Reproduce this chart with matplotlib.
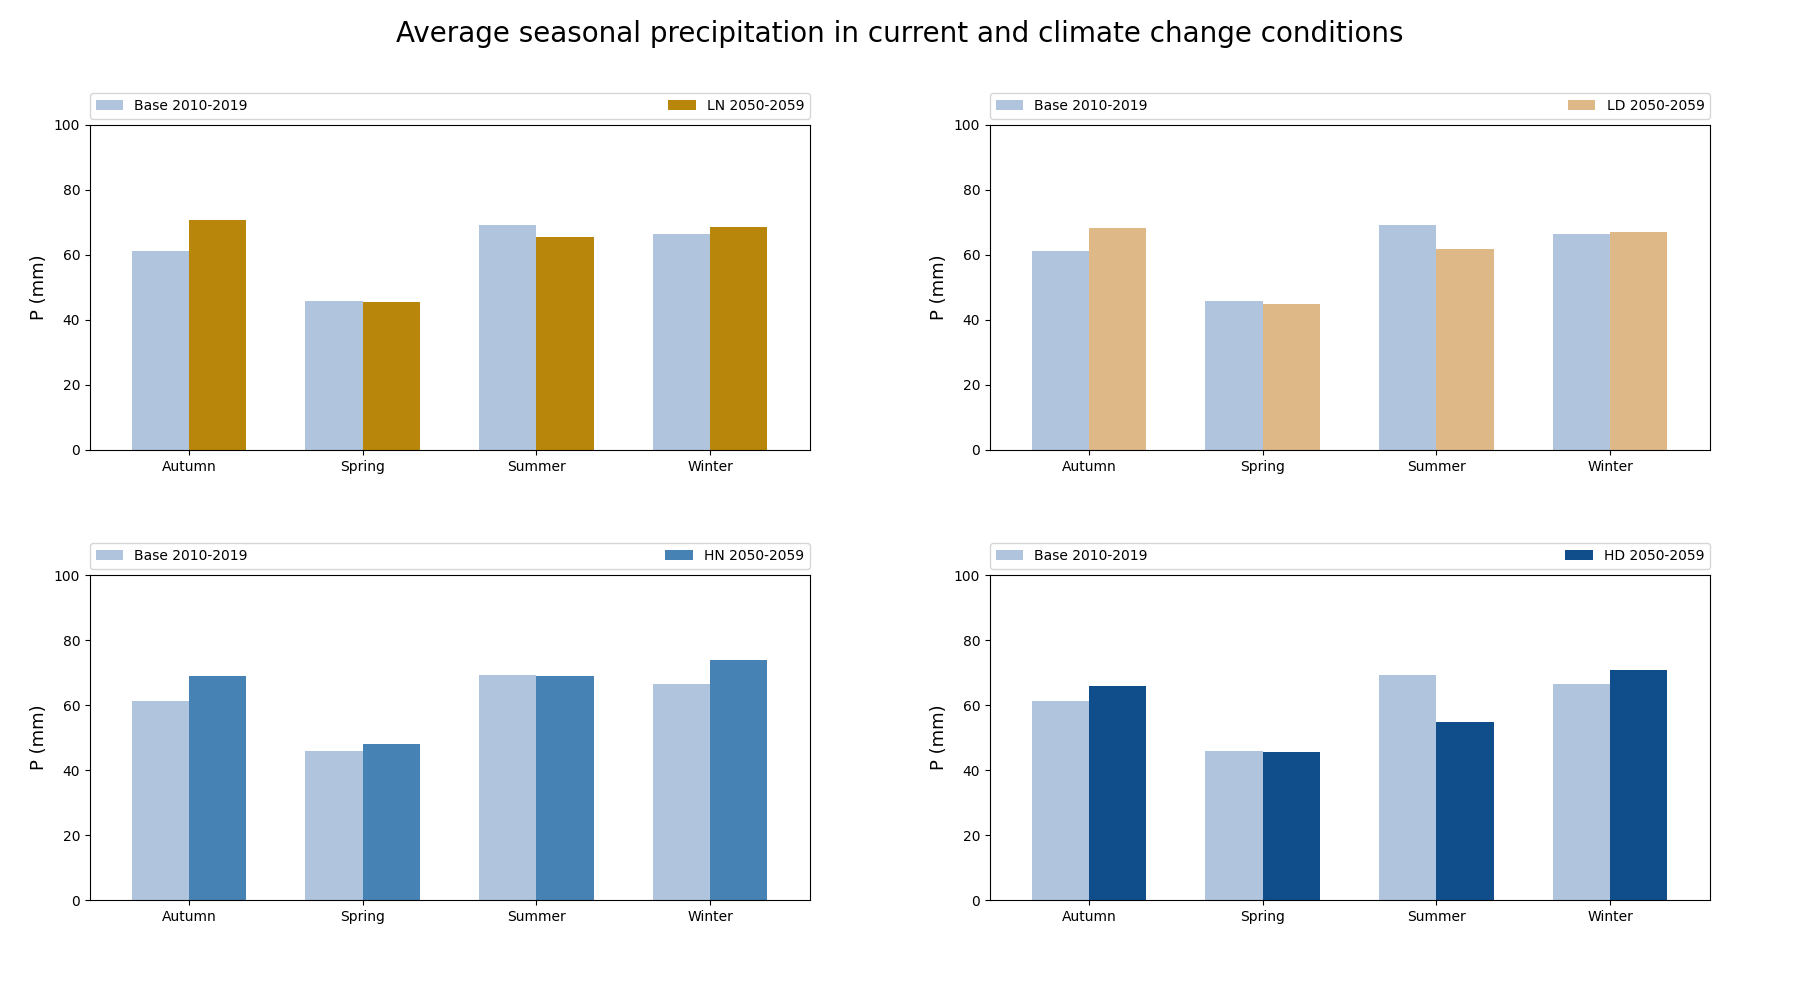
import numpy as np
import matplotlib
matplotlib.use('Agg')
import matplotlib.pyplot as plt

seasons = ['Autumn', 'Spring', 'Summer', 'Winter']
base = [61.3, 45.9, 69.3, 66.5]
ln = [70.8, 45.6, 65.6, 68.7]
ld = [68.4, 45.0, 61.9, 67.1]
hn = [69.0, 48.0, 69.0, 73.9]
hd = [65.9, 45.6, 54.8, 70.8]

scenarios = [('LN 2050-2059', ln, '#B8860B'),
             ('LD 2050-2059', ld, '#DEB887'),
             ('HN 2050-2059', hn, '#4682B4'),
             ('HD 2050-2059', hd, '#104E8B')]

width = 0.33
x = np.arange(len(seasons))

fig, axes = plt.subplots(2, 2, figsize=(18, 10), dpi=100)
fig.subplots_adjust(left=0.05, right=0.95, bottom=0.1, top=0.875, wspace=0.25, hspace=0.385)

for ax, (label, vals, color) in zip(axes.flat, scenarios):
    ax.bar(x - width / 2, base, width, color='#B0C4DE', label='Base 2010-2019')
    ax.bar(x + width / 2, vals, width, color=color, label=label)
    ax.set_xticks(x)
    ax.set_xticklabels(seasons)
    ax.set_ylim(0, 100)
    ax.set_xlim(-0.57, 3.575)
    ax.set_ylabel('P (mm)', fontsize=13)
    ax.legend(bbox_to_anchor=(0, 1.02, 1, 0.102), loc='lower left',
              ncol=2, mode='expand', borderaxespad=0)

fig.suptitle('Average seasonal precipitation in current and climate change conditions', fontsize=20, y=0.98)
fig.savefig('out.png')
